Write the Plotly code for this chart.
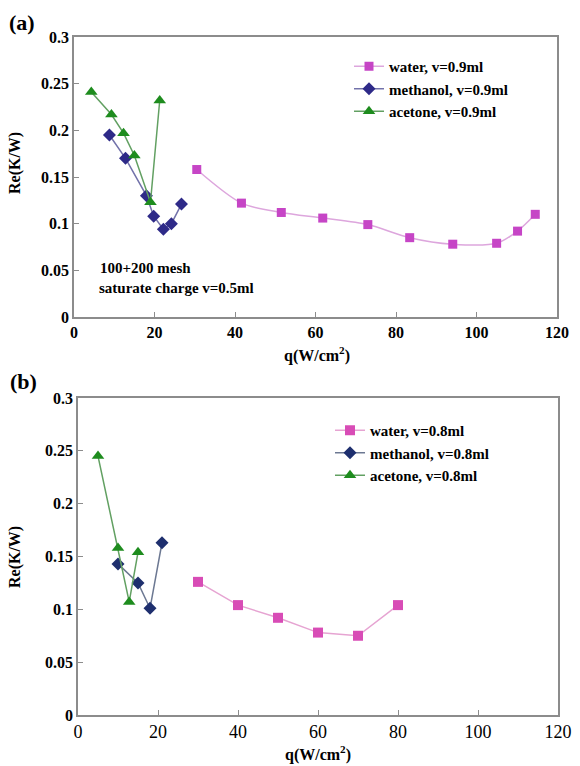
import plotly.graph_objects as go

W, H = 580, 766
FONT = "Liberation Serif, Times New Roman, DejaVu Serif, serif"

# ---------------- data ----------------
# Panel (a)
water_a_q = [30.5, 41.6, 51.5, 61.8, 73.0, 83.4, 94.1, 105.0, 110.2, 114.6]
water_a_re = [0.158, 0.122, 0.112, 0.106, 0.099, 0.085, 0.078, 0.079, 0.092, 0.110]
meth_a_q = [8.8, 12.8, 18.0, 19.8, 22.2, 24.2, 26.7]
meth_a_re = [0.195, 0.170, 0.130, 0.108, 0.094, 0.100, 0.121]
acet_a_q = [4.3, 9.3, 12.3, 15.0, 19.0, 21.3]
acet_a_re = [0.241, 0.217, 0.197, 0.173, 0.123, 0.232]
names_a = ["water, v=0.9ml", "methanol, v=0.9ml", "acetone, v=0.9ml"]

# Panel (b)
water_b_q = [30, 40, 50, 60, 70, 80]
water_b_re = [0.126, 0.104, 0.092, 0.078, 0.075, 0.104]
meth_b_q = [10, 15, 18, 21]
meth_b_re = [0.143, 0.125, 0.101, 0.163]
acet_b_q = [5, 10, 12.8, 15]
acet_b_re = [0.245, 0.158, 0.107, 0.154]
names_b = ["water, v=0.8ml", "methanol, v=0.8ml", "acetone, v=0.8ml"]

x_ticks = [0, 20, 40, 60, 80, 100, 120]
y_ticks = [0, 0.05, 0.1, 0.15, 0.2, 0.25, 0.3]


def fx(p):
    return p / W


def fy(p):
    return 1 - p / H


fig = go.Figure()

# ---- panel (a) traces ----
fig.add_trace(go.Scatter(x=water_a_q, y=water_a_re, name=names_a[0], mode="lines+markers",
                         line=dict(color="#DDA6DD", width=1.5, shape="spline", smoothing=0.8),
                         marker=dict(symbol="square", size=9, color="#C645C6"),
                         xaxis="x", yaxis="y", legend="legend"))
fig.add_trace(go.Scatter(x=meth_a_q, y=meth_a_re, name=names_a[1], mode="lines+markers",
                         line=dict(color="#7272AA", width=1.5),
                         marker=dict(symbol="diamond", size=10, color="#2E2A88"),
                         xaxis="x", yaxis="y", legend="legend"))
fig.add_trace(go.Scatter(x=acet_a_q, y=acet_a_re, name=names_a[2], mode="lines+markers",
                         line=dict(color="#62A062", width=1.5),
                         marker=dict(symbol="triangle-up", size=11, color="#1E8C1E"),
                         xaxis="x", yaxis="y", legend="legend"))

# ---- panel (b) traces ----
fig.add_trace(go.Scatter(x=water_b_q, y=water_b_re, name=names_b[0], mode="lines+markers",
                         line=dict(color="#E6A4D2", width=1.5),
                         marker=dict(symbol="square", size=10, color="#D84CB6"),
                         xaxis="x2", yaxis="y2", legend="legend2"))
fig.add_trace(go.Scatter(x=meth_b_q, y=meth_b_re, name=names_b[1], mode="lines+markers",
                         line=dict(color="#6C7892", width=1.5),
                         marker=dict(symbol="diamond", size=10, color="#1E2F6E"),
                         xaxis="x2", yaxis="y2", legend="legend2"))
fig.add_trace(go.Scatter(x=acet_b_q, y=acet_b_re, name=names_b[2], mode="lines+markers",
                         line=dict(color="#62A062", width=1.5),
                         marker=dict(symbol="triangle-up", size=11, color="#1E8C1E"),
                         xaxis="x2", yaxis="y2", legend="legend2"))

axis_common = dict(showline=True, linecolor="#8C8C8C", linewidth=1.5, mirror=True,
                   ticks="inside", ticklen=5, tickcolor="#8C8C8C", tickwidth=1,
                   showgrid=False, zeroline=False, automargin=False)

bold15 = dict(family=FONT, size=16, color="black", weight="bold")
reg16 = dict(family=FONT, size=18, color="black")
legend_font = dict(family=FONT, size=15, color="black", weight="bold")

fig.update_layout(
    width=W, height=H,
    margin=dict(l=0, r=0, t=0, b=0),
    paper_bgcolor="white", plot_bgcolor="white",
    font=dict(family=FONT),
    xaxis=dict(domain=[fx(74), fx(557)], range=[0, 120], tickvals=x_ticks,
               tickfont=bold15, anchor="y", **axis_common),
    yaxis=dict(domain=[fy(317), fy(37)], range=[0, 0.3], tickvals=y_ticks,
               tickfont=bold15, anchor="x", **axis_common),
    xaxis2=dict(domain=[fx(78), fx(558)], range=[0, 120], tickvals=x_ticks,
                tickfont=reg16, anchor="y2", **axis_common),
    yaxis2=dict(domain=[fy(715), fy(398)], range=[0, 0.3], tickvals=y_ticks,
                tickfont=bold15, anchor="x2", **axis_common),
    legend=dict(x=fx(349), y=fy(50), xanchor="left", yanchor="top",
                font=legend_font, bgcolor="rgba(0,0,0,0)", tracegroupgap=0),
    legend2=dict(x=fx(330), y=fy(414), xanchor="left", yanchor="top",
                 font=legend_font, bgcolor="rgba(0,0,0,0)", tracegroupgap=0),
    showlegend=True,
)

ann_font_b = dict(family=FONT, size=16, color="black", weight="bold")
mesh_font = dict(family=FONT, size=15, color="black", weight="bold")
annotations = [
    dict(text="(a)", x=fx(22), y=fy(22), font=dict(family=FONT, size=22, color="black", weight="bold")),
    dict(text="(b)", x=fx(23), y=fy(382), font=dict(family=FONT, size=22, color="black", weight="bold")),
    dict(text="Re(K/W)", x=fx(15), y=fy(163), textangle=-90, font=ann_font_b),
    dict(text="Re(K/W)", x=fx(15), y=fy(557), textangle=-90, font=ann_font_b),
    dict(text="q(W/cm<sup>2</sup>)", x=fx(317), y=fy(354), font=ann_font_b),
    dict(text="q(W/cm<sup>2</sup>)", x=fx(318), y=fy(753), font=ann_font_b),
    dict(text="100+200 mesh", x=fx(98), y=fy(268), xanchor="left", font=mesh_font),
    dict(text="saturate charge v=0.5ml", x=fx(97), y=fy(288), xanchor="left", font=mesh_font),
]
for a in annotations:
    a.setdefault("xanchor", "center")
    a.update(xref="paper", yref="paper", showarrow=False, yanchor="middle")
fig.update_layout(annotations=annotations)

fig.write_html("out.html")
